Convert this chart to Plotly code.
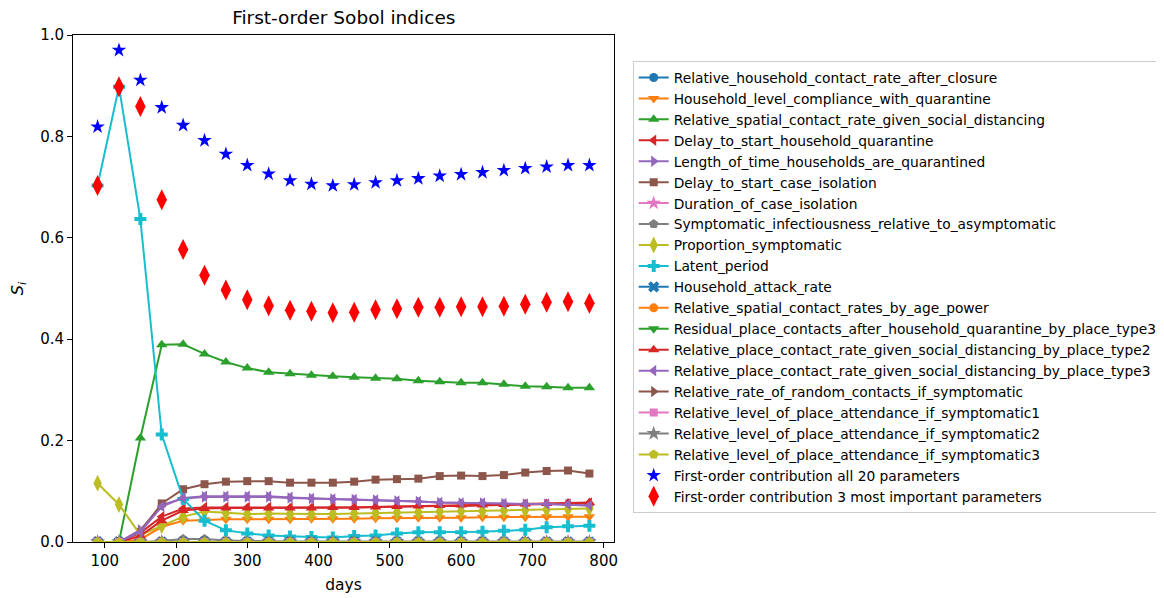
import plotly.graph_objects as go

days = [90, 120, 150, 180, 210, 240, 270, 300, 330, 360, 390, 420,
        450, 480, 510, 540, 570, 600, 630, 660, 690, 720, 750, 780]

names = [
    "Relative_household_contact_rate_after_closure",
    "Household_level_compliance_with_quarantine",
    "Relative_spatial_contact_rate_given_social_distancing",
    "Delay_to_start_household_quarantine",
    "Length_of_time_households_are_quarantined",
    "Delay_to_start_case_isolation",
    "Duration_of_case_isolation",
    "Symptomatic_infectiousness_relative_to_asymptomatic",
    "Proportion_symptomatic",
    "Latent_period",
    "Household_attack_rate",
    "Relative_spatial_contact_rates_by_age_power",
    "Residual_place_contacts_after_household_quarantine_by_place_type3",
    "Relative_place_contact_rate_given_social_distancing_by_place_type2",
    "Relative_place_contact_rate_given_social_distancing_by_place_type3",
    "Relative_rate_of_random_contacts_if_symptomatic",
    "Relative_level_of_place_attendance_if_symptomatic1",
    "Relative_level_of_place_attendance_if_symptomatic2",
    "Relative_level_of_place_attendance_if_symptomatic3",
]

s_household_contact = [0, 0, 0, 0, 0, 0, 0, 0, 0, 0, 0, 0, 0, 0, 0, 0, 0, 0, 0, 0, 0, 0, 0, 0]
s_compliance = [0, 0, 0.005, 0.030, 0.042, 0.044, 0.045, 0.045, 0.045, 0.045, 0.046, 0.046,
                0.046, 0.047, 0.047, 0.048, 0.048, 0.048, 0.049, 0.049, 0.049, 0.050, 0.050, 0.050]
s_spatial_sd = [0, 0, 0.205, 0.389, 0.390, 0.371, 0.355, 0.343, 0.335, 0.332, 0.329, 0.327,
                0.325, 0.323, 0.322, 0.318, 0.316, 0.314, 0.314, 0.311, 0.307, 0.306, 0.304, 0.304]
s_delay_hh_quar = [0, 0, 0.018, 0.050, 0.066, 0.068, 0.068, 0.068, 0.068, 0.067, 0.067, 0.068,
                   0.068, 0.069, 0.070, 0.070, 0.071, 0.071, 0.072, 0.072, 0.073, 0.074, 0.075, 0.077]
s_length_quar = [0, 0, 0.024, 0.073, 0.086, 0.089, 0.089, 0.089, 0.089, 0.087, 0.086, 0.085,
                 0.084, 0.083, 0.081, 0.080, 0.078, 0.077, 0.077, 0.076, 0.075, 0.075, 0.074, 0.072]
s_delay_case_iso = [0, 0, 0.020, 0.076, 0.104, 0.114, 0.119, 0.120, 0.120, 0.117, 0.117, 0.117,
                    0.119, 0.123, 0.124, 0.125, 0.130, 0.131, 0.130, 0.132, 0.137, 0.140, 0.141, 0.135]
s_duration_case_iso = [0, 0, 0, 0, 0, 0, 0, 0, 0, 0, 0, 0, 0, 0, 0, 0, 0, 0, 0, 0, 0, 0, 0, 0]
s_sympt_infect = [0, 0, 0, 0.002, 0.006, 0.006, 0.003, 0.002, 0.001, 0.001, 0.001, 0.001,
                  0.001, 0.001, 0.001, 0.001, 0.001, 0.001, 0.001, 0.001, 0.001, 0.001, 0.001, 0.001]
s_prop_sympt = [0.116, 0.074, 0.014, 0.032, 0.050, 0.060, 0.057, 0.055, 0.056, 0.055, 0.055, 0.055,
                0.056, 0.057, 0.058, 0.059, 0.060, 0.061, 0.061, 0.062, 0.063, 0.064, 0.065, 0.066]
s_latent = [0.703, 0.898, 0.637, 0.212, 0.085, 0.042, 0.023, 0.017, 0.013, 0.011, 0.010, 0.009,
            0.012, 0.013, 0.017, 0.019, 0.019, 0.019, 0.020, 0.022, 0.024, 0.029, 0.031, 0.032]
s_hh_attack = [0, 0, 0, 0, 0, 0, 0, 0, 0, 0, 0, 0, 0, 0, 0, 0, 0, 0, 0, 0, 0, 0, 0, 0]
s_age_power = [0, 0, 0, 0, 0, 0, 0, 0, 0, 0, 0, 0, 0, 0, 0, 0, 0, 0, 0, 0, 0, 0, 0, 0]
s_residual_pt3 = [0, 0, 0, 0, 0, 0, 0, 0, 0, 0, 0, 0, 0, 0, 0, 0, 0, 0, 0, 0, 0, 0, 0, 0]
s_place_sd_pt2 = [0, 0, 0.012, 0.042, 0.062, 0.066, 0.067, 0.067, 0.067, 0.067, 0.067, 0.068,
                  0.068, 0.069, 0.070, 0.071, 0.072, 0.073, 0.073, 0.074, 0.075, 0.076, 0.077, 0.078]
s_place_sd_pt3 = [0, 0, 0.020, 0.070, 0.087, 0.090, 0.090, 0.090, 0.090, 0.088, 0.086, 0.085,
                  0.084, 0.083, 0.081, 0.080, 0.078, 0.077, 0.077, 0.076, 0.075, 0.075, 0.074, 0.072]
s_random_contacts = [0, 0, 0, 0, 0, 0, 0, 0, 0, 0, 0, 0, 0, 0, 0, 0, 0, 0, 0, 0, 0, 0, 0, 0]
s_attend1 = [0, 0, 0, 0, 0, 0, 0, 0, 0, 0, 0, 0, 0, 0, 0, 0, 0, 0, 0, 0, 0, 0, 0, 0]
s_attend2 = [0, 0, 0, 0, 0, 0, 0, 0, 0, 0, 0, 0, 0, 0, 0, 0, 0, 0, 0, 0, 0, 0, 0, 0]
s_attend3 = [0, 0, 0, 0, 0, 0, 0, 0, 0, 0, 0, 0, 0, 0, 0, 0, 0, 0, 0, 0, 0, 0, 0, 0]

all_20 = [0.819, 0.970, 0.911, 0.857, 0.822, 0.792, 0.765, 0.743, 0.726, 0.713, 0.706, 0.703,
          0.705, 0.709, 0.713, 0.717, 0.722, 0.725, 0.729, 0.733, 0.737, 0.740, 0.743, 0.743]
top_3 = [0.703, 0.898, 0.859, 0.675, 0.577, 0.526, 0.497, 0.478, 0.466, 0.457, 0.455, 0.452,
         0.453, 0.458, 0.460, 0.463, 0.463, 0.464, 0.464, 0.465, 0.469, 0.473, 0.474, 0.471]

series = [s_household_contact, s_compliance, s_spatial_sd, s_delay_hh_quar, s_length_quar,
          s_delay_case_iso, s_duration_case_iso, s_sympt_infect, s_prop_sympt, s_latent,
          s_hh_attack, s_age_power, s_residual_pt3, s_place_sd_pt2, s_place_sd_pt3,
          s_random_contacts, s_attend1, s_attend2, s_attend3]

colors = ["#1f77b4", "#ff7f0e", "#2ca02c", "#d62728", "#9467bd",
          "#8c564b", "#e377c2", "#7f7f7f", "#bcbd22", "#17becf"]
symbols = ["circle", "triangle-down", "triangle-up", "triangle-left", "triangle-right",
           "square", "star", "pentagon", "diamond-tall", "cross", "x"]
sizes = [9, 10, 10, 10, 10, 8, 11, 10, 12, 10, 10]

# the page body has an 8px margin, so the figure is drawn 8px smaller
W, H = 1156, 590
PL, PR, PT, PB = 65.3, 606.3, 27, 534   # plot area in figure pixels

fig = go.Figure()
for i, (name, vals) in enumerate(zip(names, series)):
    k = i % len(symbols)
    fig.add_trace(go.Scatter(
        x=days, y=vals, name=name, mode="lines+markers",
        line=dict(color=colors[i % 10], width=2),
        marker=dict(symbol=symbols[k], size=sizes[k], color=colors[i % 10]),
        legendgroup="g%d" % i,
    ))

fig.add_trace(go.Scatter(
    x=days, y=all_20, name="First-order contribution all 20 parameters", mode="markers",
    marker=dict(symbol="star", size=11, color="blue"), legendgroup="g19"))
fig.add_trace(go.Scatter(
    x=days, y=top_3, name="First-order contribution 3 most important parameters", mode="markers",
    marker=dict(symbol="diamond-tall", size=15, color="red"), legendgroup="g20"))

axis_common = dict(showline=True, linecolor="black", linewidth=1, mirror=True,
                   ticks="outside", ticklen=5, tickcolor="black", showgrid=False,
                   zeroline=False, automargin=False, tickfont=dict(size=15, color="black"))

fig.update_layout(
    width=W, height=H,
    margin=dict(l=PL, r=W - PR, t=PT, b=H - PB, autoexpand=False),
    paper_bgcolor="white", plot_bgcolor="white",
    font=dict(family="DejaVu Sans", color="black"),
    title=dict(text="First-order Sobol indices", x=(PL + PR) / 2 / W, xanchor="center",
               y=1 - 10 / H, yanchor="middle", font=dict(size=18.5, color="black")),
    xaxis=dict(range=[55.5, 814.5], tickvals=[100, 200, 300, 400, 500, 600, 700, 800],
               title=dict(text="days", font=dict(size=15.5), standoff=10), **axis_common),
    yaxis=dict(range=[0, 1], tickvals=[0, 0.2, 0.4, 0.6, 0.8, 1.0], tickformat=".1f",
               title=dict(text="<i>S</i><sub><i>i</i></sub>", font=dict(size=16), standoff=18),
               **axis_common),
    showlegend=True,
    legend=dict(x=(625 - PL) / (PR - PL), xanchor="left", y=(PB - 53) / (PB - PT), yanchor="top",
                bgcolor="white", bordercolor="#cccccc", borderwidth=1,
                font=dict(size=13.8, color="black"), tracegroupgap=0,
                itemwidth=30),
)

fig.write_html("out.html")
